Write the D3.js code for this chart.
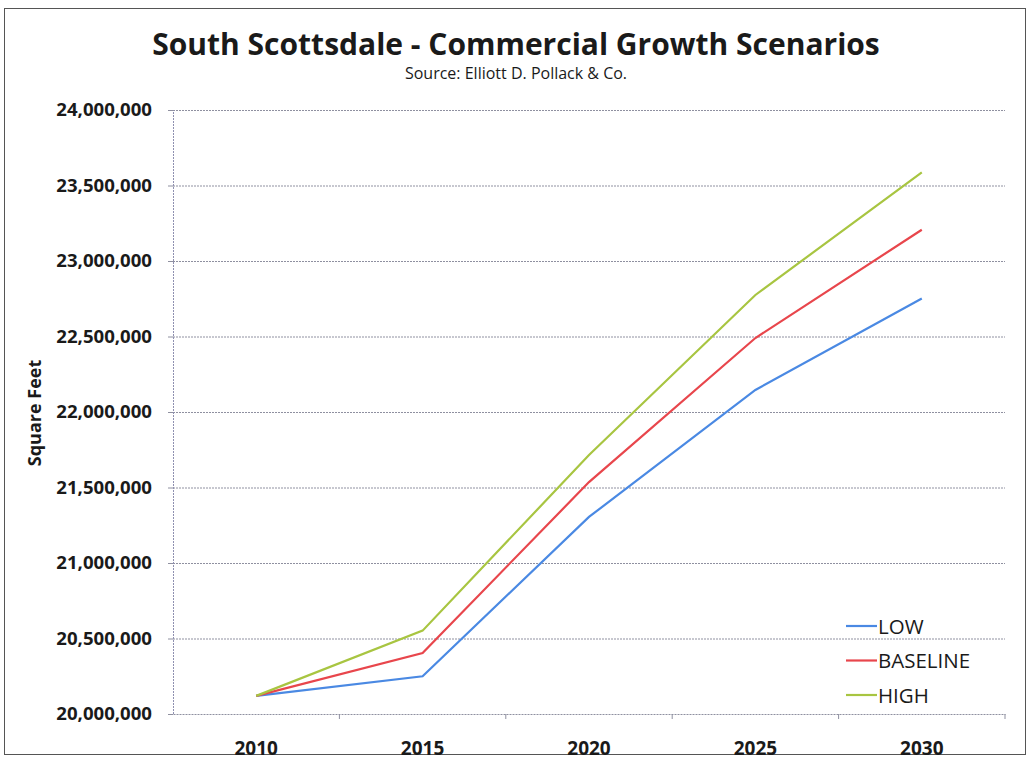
<!DOCTYPE html>
<html>
<head>
<meta charset="utf-8">
<script src="https://cdn.jsdelivr.net/npm/d3@7"></script>
<style>
  body { margin: 0; background: #fff; }
  text { font-family: "Open Sans", sans-serif; fill: #1a1a1a; }
</style>
</head>
<body>
<svg class="chart" width="1033" height="763"></svg>
<script>
const years = ["2010", "2015", "2020", "2025", "2030"];
const low = [20120000, 20250000, 21305000, 22146000, 22752000];
const baseline = [20120000, 20404000, 21536000, 22490000, 23207000];
const high = [20120000, 20552000, 21715000, 22775000, 23587000];
const yTicks = [20000000, 20500000, 21000000, 21500000, 22000000, 22500000, 23000000, 23500000, 24000000];
const seriesNames = ["LOW", "BASELINE", "HIGH"];
const seriesColors = ["#4a89e3", "#e8464c", "#a8c541"];

const svg = d3.select(".chart");
const margin = { top: 110, left: 173, right: 28, bottom: 49 };
const width = 1033 - margin.left - margin.right;
const height = 763 - margin.top - margin.bottom;

// outer frame
svg.append("rect")
  .attr("x", 4.5).attr("y", 8.5)
  .attr("width", 1021).attr("height", 746)
  .attr("fill", "none")
  .attr("stroke", "#555")
  .attr("stroke-width", 1);

// title
svg.append("text")
  .attr("x", 516).attr("y", 55)
  .attr("text-anchor", "middle")
  .style("font-size", "30px")
  .style("font-weight", "bold")
  .text("South Scottsdale - Commercial Growth Scenarios");

svg.append("text")
  .attr("x", 516).attr("y", 79)
  .attr("text-anchor", "middle")
  .style("font-size", "16px")
  .text("Source: Elliott D. Pollack & Co.");

// Y-axis label
svg.append("text")
  .attr("transform", "rotate(-90)")
  .attr("x", -413).attr("y", 41)
  .attr("text-anchor", "middle")
  .style("font-size", "18px")
  .style("font-weight", "bold")
  .text("Square Feet");

const g = svg.append("g")
  .attr("transform", `translate(${margin.left},${margin.top})`);

const x = d3.scaleBand()
  .domain(years)
  .range([0, width]);

const y = d3.scaleLinear()
  .domain([20000000, 24000000])
  .range([height, 0]);

// gridlines
g.append("g")
  .selectAll("line")
  .data(yTicks.slice(1))
  .enter().append("line")
  .attr("x1", 0).attr("x2", width)
  .attr("y1", d => y(d) + 0.5).attr("y2", d => y(d) + 0.5)
  .attr("stroke", "#8f90a0")
  .attr("stroke-width", 1)
  .attr("stroke-dasharray", "2,1");

const yAxis = g.append("g")
  .call(d3.axisLeft(y).tickValues(yTicks).tickSize(5).tickPadding(16).tickFormat(d3.format(",")));
yAxis.select(".domain").attr("stroke", "#8f90b0").attr("stroke-dasharray", "2,1");
yAxis.selectAll(".tick line").attr("stroke", "#8f90a0");
yAxis.selectAll(".tick text")
  .style("font-size", "18.6px")
  .style("font-weight", "bold");

const xAxis = g.append("g")
  .attr("transform", `translate(0,${height})`)
  .call(d3.axisBottom(x).tickSize(0).tickPadding(28));
xAxis.select(".domain").attr("stroke", "#8f90a0").attr("stroke-dasharray", "2,1");
xAxis.selectAll(".tick text")
  .style("font-size", "19px")
  .style("font-weight", "bold");

// ticks between categories
xAxis.selectAll(".sep")
  .data(years)
  .enter().append("line")
  .attr("x1", d => x(d) + x.bandwidth()).attr("x2", d => x(d) + x.bandwidth())
  .attr("y1", 0).attr("y2", 5)
  .attr("stroke", "#8f90a0");

const line = d3.line()
  .x((d, i) => x(years[i]) + x.bandwidth() / 2)
  .y(d => y(d));

[low, baseline, high].forEach((s, k) => {
  g.append("path")
    .datum(s)
    .attr("fill", "none")
    .attr("stroke", seriesColors[k])
    .attr("stroke-width", 2.2)
    .attr("d", line);
});

// legend
const legend = svg.append("g");
seriesNames.forEach((name, k) => {
  const ly = 626 + k * 34.5;
  legend.append("line")
    .attr("x1", 846).attr("x2", 877)
    .attr("y1", ly).attr("y2", ly)
    .attr("stroke", seriesColors[k])
    .attr("stroke-width", 2.2);
  legend.append("text")
    .attr("x", 878).attr("y", ly + 7.5)
    .style("font-size", "20.5px")
    .text(name);
});
</script>
</body>
</html>
